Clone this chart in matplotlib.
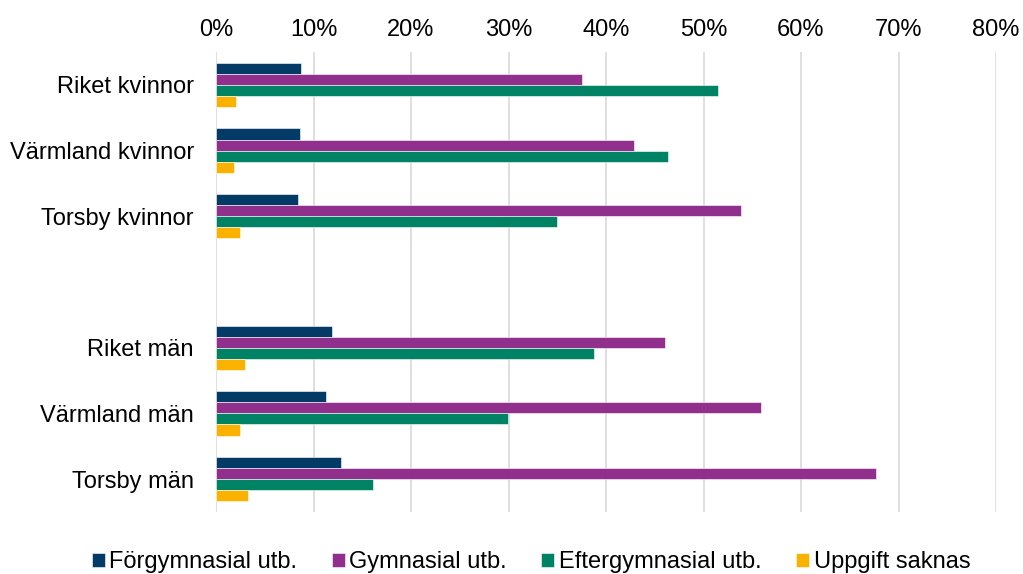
import matplotlib
matplotlib.use("Agg")
import matplotlib.pyplot as plt
import numpy as np
from matplotlib.ticker import PercentFormatter

plt.rcParams['font.family'] = ['Liberation Sans', 'DejaVu Sans']

categories = ["Riket kvinnor", "Värmland kvinnor", "Torsby kvinnor", "",
              "Riket män", "Värmland män", "Torsby män"]
series_names = ["Förgymnasial utb.", "Gymnasial utb.", "Eftergymnasial utb.", "Uppgift saknas"]
forgymnasial = [8.7, 8.6, 8.4, None, 11.9, 11.3, 12.8]
gymnasial = [37.5, 42.9, 53.8, None, 46.1, 55.9, 67.7]
eftergymnasial = [51.5, 46.4, 35.0, None, 38.8, 29.9, 16.1]
uppgift_saknas = [2.0, 1.8, 2.45, None, 3.0, 2.5, 3.25]
colors = ["#033A66", "#91308C", "#008264", "#FBB100"]

series = [forgymnasial, gymnasial, eftergymnasial, uppgift_saknas]

fig = plt.figure(figsize=(10.23, 5.74), dpi=100)
ax = fig.add_axes([216/1023, 1-512/574, (996-216)/1023, (512-52)/574])

n = len(categories)
y = np.arange(n)
h = 0.168
for i, (vals, name, c) in enumerate(zip(series, series_names, colors)):
    yy = [yi + (i - 1.5) * h for yi, v in zip(y, vals) if v is not None]
    vv = [v for v in vals if v is not None]
    ax.barh(yy, vv, height=h, color=c, label=name, edgecolor='white', linewidth=0.4, zorder=3)

ax.set_ylim(n - 0.5, -0.5)
ax.set_xlim(0, 80)
ax.set_xticks(np.arange(0, 81, 10))
ax.xaxis.set_major_formatter(PercentFormatter(decimals=0))
ax.xaxis.tick_top()
ax.set_yticks(y)
ax.set_yticklabels(categories)
ax.tick_params(axis='both', length=0, labelsize=17, colors='black')
ax.tick_params(axis='x', pad=8)
ax.tick_params(axis='y', pad=16)
ax.grid(axis='x', color='#d9d9d9', linewidth=1.2, zorder=0)
for s in ax.spines.values():
    s.set_visible(False)

leg = fig.legend(loc='center', bbox_to_anchor=(531/1023, 1-562/574), ncol=4, frameon=False,
                 fontsize=17, handlelength=0.55, handleheight=0.55, handletextpad=0.2,
                 columnspacing=1.45)

fig.savefig("out.png", dpi=100)
